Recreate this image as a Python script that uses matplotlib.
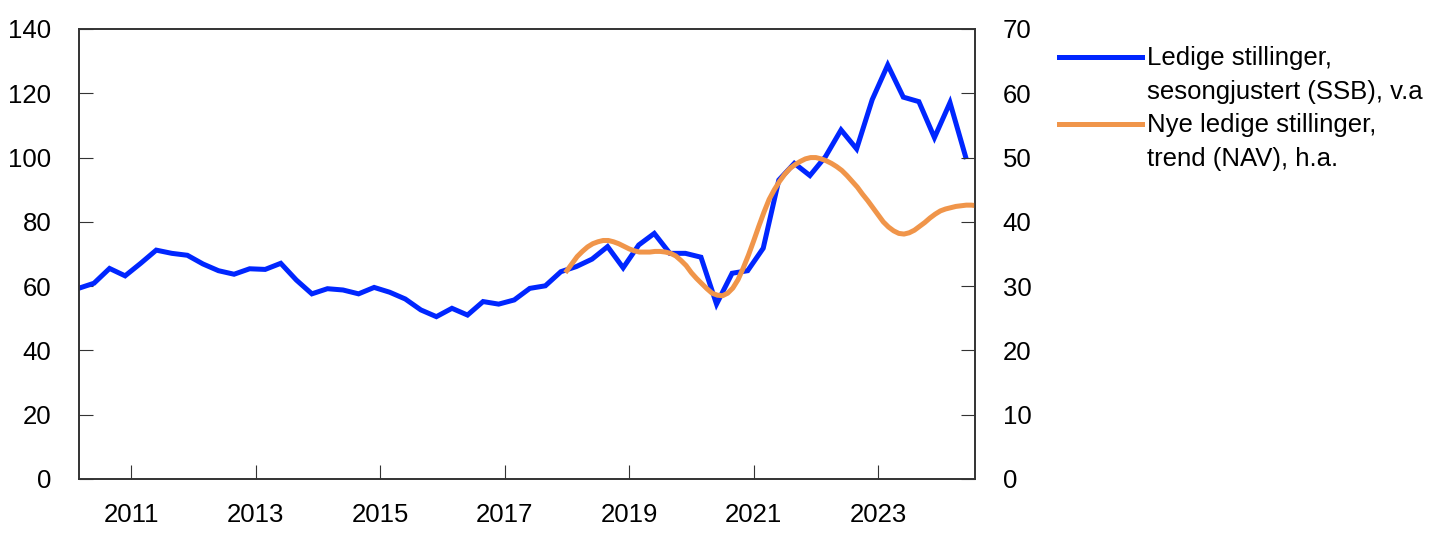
import numpy as np
import matplotlib
matplotlib.use('Agg')
import matplotlib.pyplot as plt
from matplotlib.legend_handler import HandlerLine2D

plt.rcParams['font.family'] = ['Liberation Sans', 'DejaVu Sans']

# quarterly vacancies (SSB), left axis, from 2010Q1
blue_start = 2010.155
blue_vals = [59.3, 60.9, 65.5, 63.2, 67.1, 71.2, 70.2, 69.6, 66.9, 64.8,
             63.7, 65.4, 65.2, 67.1, 61.9, 57.6, 59.2, 58.8, 57.6, 59.6,
             58.1, 56.0, 52.6, 50.5, 53.1, 51.0, 55.2, 54.4, 55.7, 59.3,
             60.1, 64.5, 66.1, 68.4, 72.3, 65.7, 72.8, 76.4, 70.2, 70.2,
             69.0, 54.4, 64.0, 64.8, 71.8, 93.0, 98.2, 94.4, 100.3, 108.6,
             102.7, 118.0, 128.8, 118.8, 117.4, 106.2, 117.1, 100.3]

# monthly new vacancies trend (NAV), right axis, from Jan 2018
orange_start = 2018.0
orange_vals = [32.4, 33.5, 34.6, 35.4, 36.1, 36.6, 36.9, 37.1, 37.1, 36.9, 36.6, 36.2,
               35.8, 35.5, 35.3, 35.3, 35.3, 35.4, 35.4, 35.3, 35.1, 34.7, 34.0, 33.2,
               32.1, 31.2, 30.4, 29.6, 28.9, 28.6, 28.5, 28.9, 29.7, 31.0, 32.8, 34.8,
               37.0, 39.3, 41.5, 43.5, 45.0, 46.3, 47.4, 48.3, 48.9, 49.4, 49.8, 50.0,
               50.0, 49.8, 49.5, 49.1, 48.6, 48.0, 47.2, 46.3, 45.4, 44.3, 43.3, 42.2,
               41.1, 40.0, 39.2, 38.6, 38.2, 38.1, 38.3, 38.7, 39.3, 39.9, 40.6, 41.2,
               41.7, 42.0, 42.2, 42.4, 42.5, 42.6, 42.6, 42.5]

year_ticks = [2011, 2013, 2015, 2017, 2019, 2021, 2023]
labels = ['Ledige stillinger,\nsesongjustert (SSB), v.a',
          'Nye ledige stillinger,\ntrend (NAV), h.a.']

blue_x = blue_start + 0.25 * np.arange(len(blue_vals))
orange_x = orange_start + np.arange(len(orange_vals)) / 12

BLUE = '#0026ff'
ORANGE = '#f0954a'
SPINE = '#333333'
FS = 18.5


class TopLine(HandlerLine2D):
    # put the legend line level with the first text line
    def create_artists(self, legend, orig_handle, xdescent, ydescent,
                       width, height, fontsize, trans):
        arts = super().create_artists(legend, orig_handle, xdescent, ydescent,
                                      width, height, fontsize, trans)
        for a in arts:
            a.set_ydata(np.asarray(a.get_ydata()) + 13.5)
        return arts


fig = plt.figure(figsize=(14.45, 5.43), dpi=100)
ax = fig.add_axes([0.0547, 0.1179, 0.6201, 0.8287])
ax2 = ax.twinx()

l1, = ax.plot(blue_x, blue_vals, color=BLUE, lw=3.6, solid_joinstyle='miter')
l2, = ax2.plot(orange_x, orange_vals, color=ORANGE, lw=3.6)

ax.set_xlim(2010.165, 2024.558)
ax.set_ylim(0, 140)
ax2.set_ylim(0, 70)
ax.set_yticks(range(0, 141, 20))
ax2.set_yticks(range(0, 71, 10))
ax.set_xticks(year_ticks)
ax.set_xticklabels([str(y) for y in year_ticks])

for a in (ax, ax2):
    for s in a.spines.values():
        s.set_color(SPINE)
        s.set_linewidth(1.2)
ax.tick_params(axis='x', direction='in', length=10, width=0.8, color=SPINE,
               labelsize=FS, pad=17)
ax.tick_params(axis='y', direction='in', length=10, width=0.8, color=SPINE,
               labelsize=FS, pad=20)
ax2.tick_params(axis='y', direction='in', length=10, width=0.8, color=SPINE,
                labelsize=FS, pad=20)

leg = fig.legend([l1, l2], labels, loc='upper left', bbox_to_anchor=(0.733, 0.915),
                 frameon=False, fontsize=FS, handlelength=3.23, handletextpad=0.19,
                 labelspacing=0.35, borderaxespad=0, borderpad=0,
                 handler_map={matplotlib.lines.Line2D: TopLine()})
for t in leg.get_texts():
    t.set_linespacing(1.53)

fig.savefig('out.png', dpi=100)
